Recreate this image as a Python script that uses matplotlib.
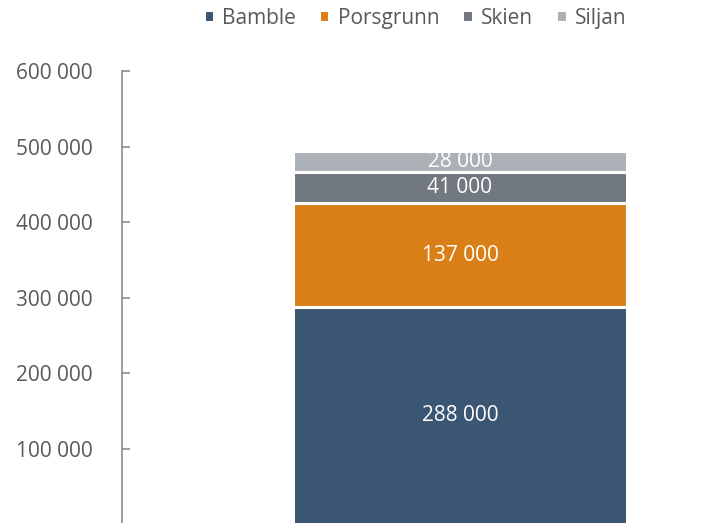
import matplotlib.pyplot as plt
from matplotlib.ticker import FuncFormatter

plt.rcParams['font.family'] = ['Open Sans', 'DejaVu Sans']

kommuner = ['Bamble', 'Porsgrunn', 'Skien', 'Siljan']
verdier = [288000, 137000, 41000, 28000]
farger = ['#3a5673', '#d97f18', '#72787f', '#abb1b6']
y_ticks = [100000, 200000, 300000, 400000, 500000, 600000]

fig = plt.figure(figsize=(7.16, 5.23), dpi=100)
ax = fig.add_axes([0.170, -0.003, 0.830, 0.867])

bunn = 0
for navn, v, c in zip(kommuner, verdier, farger):
    bars = ax.bar(0, v, width=1.0, bottom=bunn, color=c, edgecolor='white',
                  linewidth=2.2, label=navn)
    ax.bar_label(bars, labels=[f'{v:,}'.replace(',', ' ')], label_type='center',
                 color='white', fontsize=15)
    bunn += v

ax.set_xlim(-1.012, 0.766)
ax.set_ylim(0, 600000)
ax.set_yticks(y_ticks)
ax.yaxis.set_major_formatter(FuncFormatter(lambda y, _: f'{int(y):,}'.replace(',', ' ')))

for s in ['top', 'right', 'bottom']:
    ax.spines[s].set_visible(False)
ax.spines['left'].set_color('#8c8c8c')
ax.spines['left'].set_linewidth(1.2)
ax.tick_params(axis='y', direction='in', length=6, width=1.2, color='#8c8c8c',
               labelcolor='#595959', labelsize=15, pad=21)
ax.set_xticks([])

fig.legend(loc='center', bbox_to_anchor=(415 / 716, 1 - 18 / 523), ncol=4,
           frameon=False, fontsize=15, handlelength=0.5, handleheight=0.5,
           handletextpad=0.4, columnspacing=1.1, labelcolor='#595959')

fig.savefig('out.png', dpi=100)
